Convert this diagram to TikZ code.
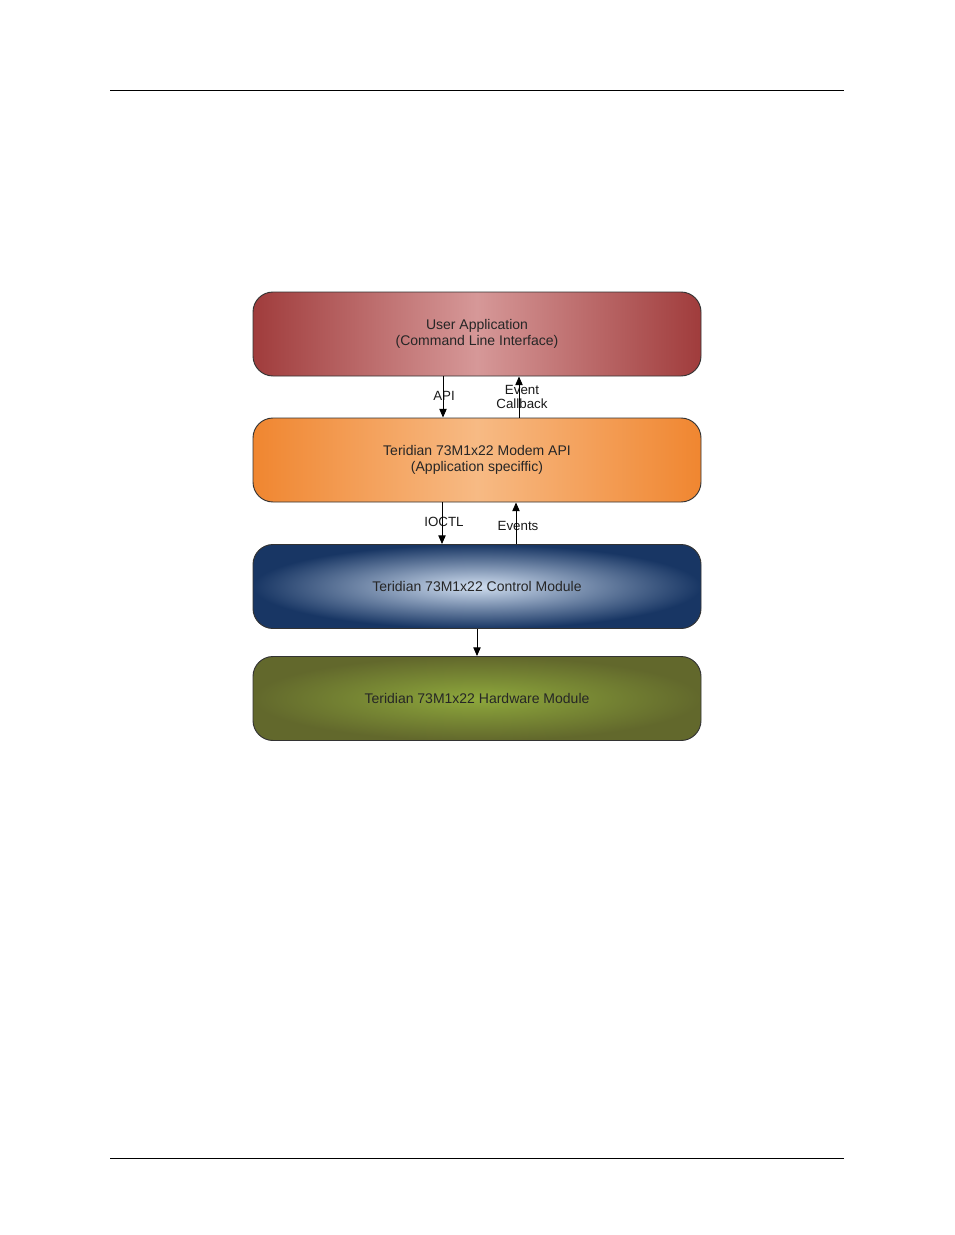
\documentclass[tikz,border=0pt]{standalone}
\usepackage{fontspec}
\setmainfont{Liberation Sans}
\usetikzlibrary{arrows.meta}

\definecolor{userred}{RGB}{160,60,60}
\definecolor{userredl}{RGB}{214,152,152}
\definecolor{apiorange}{RGB}{240,134,48}
\definecolor{apiorangel}{RGB}{247,186,132}
\definecolor{ctrlblue}{RGB}{24,54,100}
\definecolor{ctrlbluel}{RGB}{208,222,240}
\definecolor{hwolive}{RGB}{98,104,44}
\definecolor{hwolivel}{RGB}{142,168,60}

\tikzset{
  layer/.style={draw=black!80, line width=0.7pt, rounded corners=15pt,
    minimum width=336pt, minimum height=63pt, align=center, text=black!85,
    font=\fontsize{10.5}{12}\selectfont},
  userbox/.style={layer, left color=userred, right color=userred, middle color=userredl},
  apibox/.style={layer, left color=apiorange, right color=apiorange, middle color=apiorangel},
  ctrlbox/.style={layer, inner color=ctrlbluel, outer color=ctrlblue},
  hwbox/.style={layer, inner color=hwolivel, outer color=hwolive},
  lbl/.style={font=\fontsize{10}{10.5}\selectfont, align=center, inner sep=0pt, text=black!90},
  arr/.style={-{Triangle[length=6.5pt,width=5.5pt]}, line width=0.7pt},
  rule/.style={line width=0.7pt}
}

\begin{document}
\begin{tikzpicture}[x=0.75pt,y=-0.75pt]
  \useasboundingbox (0,0) rectangle (954,1235);
  % page rules
  \draw[rule] (110,90) -- (844,90);
  \draw[rule] (110,1158) -- (844,1158);
  % layers
  \node[userbox] (user) at (477,334) {User Application\\(Command Line Interface)};
  \node[apibox] (modem) at (477,460) {Teridian 73M1x22 Modem API\\(Application speciffic)};
  \node[ctrlbox] (ctrl) at (477,586.5) {Teridian 73M1x22 Control Module};
  \node[hwbox] (hw) at (477,698.5) {Teridian 73M1x22 Hardware Module};
  % labels
  \node[lbl] (api) at (444,396) {API};
  \node[lbl] (callback) at (522,397) {Event\\Callback};
  \node[lbl] (ioctl) at (444,522) {IOCTL};
  \node[lbl] (events) at (518,526) {Events};
  \coordinate (apix) at (443,0);
  \coordinate (callbackx) at (519,0);
  \coordinate (ioctlx) at (442,0);
  \coordinate (eventsx) at (516,0);
  % connectors
  \draw[arr] (user.south -| apix) -- (modem.north -| apix);
  \draw[arr] (modem.north -| callbackx) -- (user.south -| callbackx);
  \draw[arr] (modem.south -| ioctlx) -- (ctrl.north -| ioctlx);
  \draw[arr] (ctrl.north -| eventsx) -- (modem.south -| eventsx);
  \draw[arr] (ctrl) -- (hw);
\end{tikzpicture}
\end{document}
